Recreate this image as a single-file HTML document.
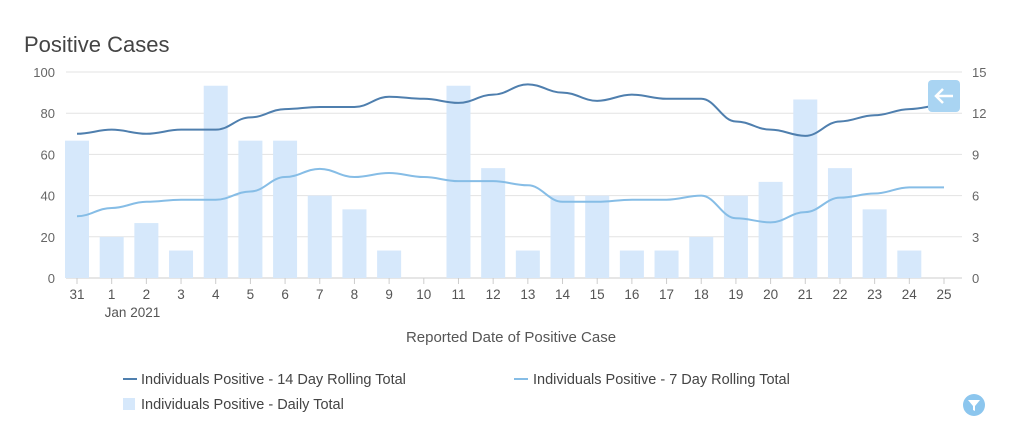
<!DOCTYPE html>
<html><head><meta charset="utf-8"><style>
body{margin:0;background:#fff;font-family:"Liberation Sans",sans-serif;}
</style></head><body>
<svg id="s" width="1023" height="447" xmlns="http://www.w3.org/2000/svg" style="display:block">
<text x="24" y="52" font-size="22" fill="#444" font-family="Liberation Sans, sans-serif">Positive Cases</text>
</svg>
<script>
var s=document.getElementById('s'),ns='http://www.w3.org/2000/svg';
function el(t,a,txt){var e=document.createElementNS(ns,t);for(var k in a)e.setAttribute(k,a[k]);if(txt!=null)e.textContent=txt;s.appendChild(e);return e;}
var X0=77,DX=(944-77)/25,Y0=278,K=2.06;
function x(i){return X0+DX*i;}function y(v){return Y0-K*v;}
for(var g=0;g<=5;g++){var yy=y(g*20);el('line',{x1:66,x2:962,y1:yy,y2:yy,stroke:g?'#e3e3e3':'#ccc','stroke-width':1});
el('text',{x:55,y:yy+5,'font-size':13,fill:'#666','text-anchor':'end'},g*20);
el('text',{x:972,y:yy+5,'font-size':13,fill:'#666'},g*3);}
var labels=['31','1','2','3','4','5','6','7','8','9','10','11','12','13','14','15','16','17','18','19','20','21','22','23','24','25'];
var bars=[10,3,4,2,14,10,10,6,5,2,0,14,8,2,6,6,2,2,3,6,7,13,8,5,2,0];
for(var i=0;i<26;i++){var h=bars[i]/15*100*K;if(h>0)el('rect',{x:x(i)-12,y:Y0-h,width:24,height:h,fill:'#d6e8fb'});
el('line',{x1:x(i),x2:x(i),y1:Y0,y2:Y0+6,stroke:'#ccc'});
el('text',{x:x(i),y:299,'font-size':13.5,fill:'#555','text-anchor':'middle'},labels[i]);}
el('text',{x:x(1)-7,y:317,'font-size':13.5,fill:'#555'},'Jan 2021');
el('text',{x:511,y:342,'font-size':15,fill:'#555','text-anchor':'middle'},'Reported Date of Positive Case');
function line(d,c){var p='M'+x(0)+','+y(d[0]);for(var i=1;i<d.length;i++){p+=' C'+(x(i-1)+DX/2.5)+','+y(d[i-1])+' '+(x(i)-DX/2.5)+','+y(d[i])+' '+x(i)+','+y(d[i]);}
el('path',{d:p,fill:'none',stroke:c,'stroke-width':2});}
line([70,72,70,72,72,78,82,83,83,88,87,85,89,94,90,86,89,87,87,76,72,69,76,79,82,84],'#4f7fae');
line([30,34,37,38,38,42,49,53,49,51,49,47,47,45,37,37,38,38,40,29,27,32,39,41,44,44],'#86bde6');
el('rect',{x:928,y:80,width:32,height:32,rx:4,fill:'#a9d4f2'});
el('path',{d:'M953,96 H936 M943,89 L936,96 L943,103',stroke:'#fff','stroke-width':2.5,fill:'none'});
el('line',{x1:123,x2:137,y1:379,y2:379,stroke:'#4f7fae','stroke-width':2});
el('text',{x:141,y:384,'font-size':14.5,fill:'#444'},'Individuals Positive - 14 Day Rolling Total');
el('line',{x1:514,x2:528,y1:379,y2:379,stroke:'#86bde6','stroke-width':2});
el('text',{x:533,y:384,'font-size':14.5,fill:'#444'},'Individuals Positive - 7 Day Rolling Total');
el('rect',{x:123,y:398,width:12,height:12,fill:'#d6e8fb'});
el('text',{x:141,y:409,'font-size':14.5,fill:'#444'},'Individuals Positive - Daily Total');
el('circle',{cx:974,cy:405,r:11,fill:'#8cc6ee'});
el('path',{d:'M968,400 H980 L975,406 V411 L973,410 V406 Z',fill:'#fff'});
</script>
</body></html>
